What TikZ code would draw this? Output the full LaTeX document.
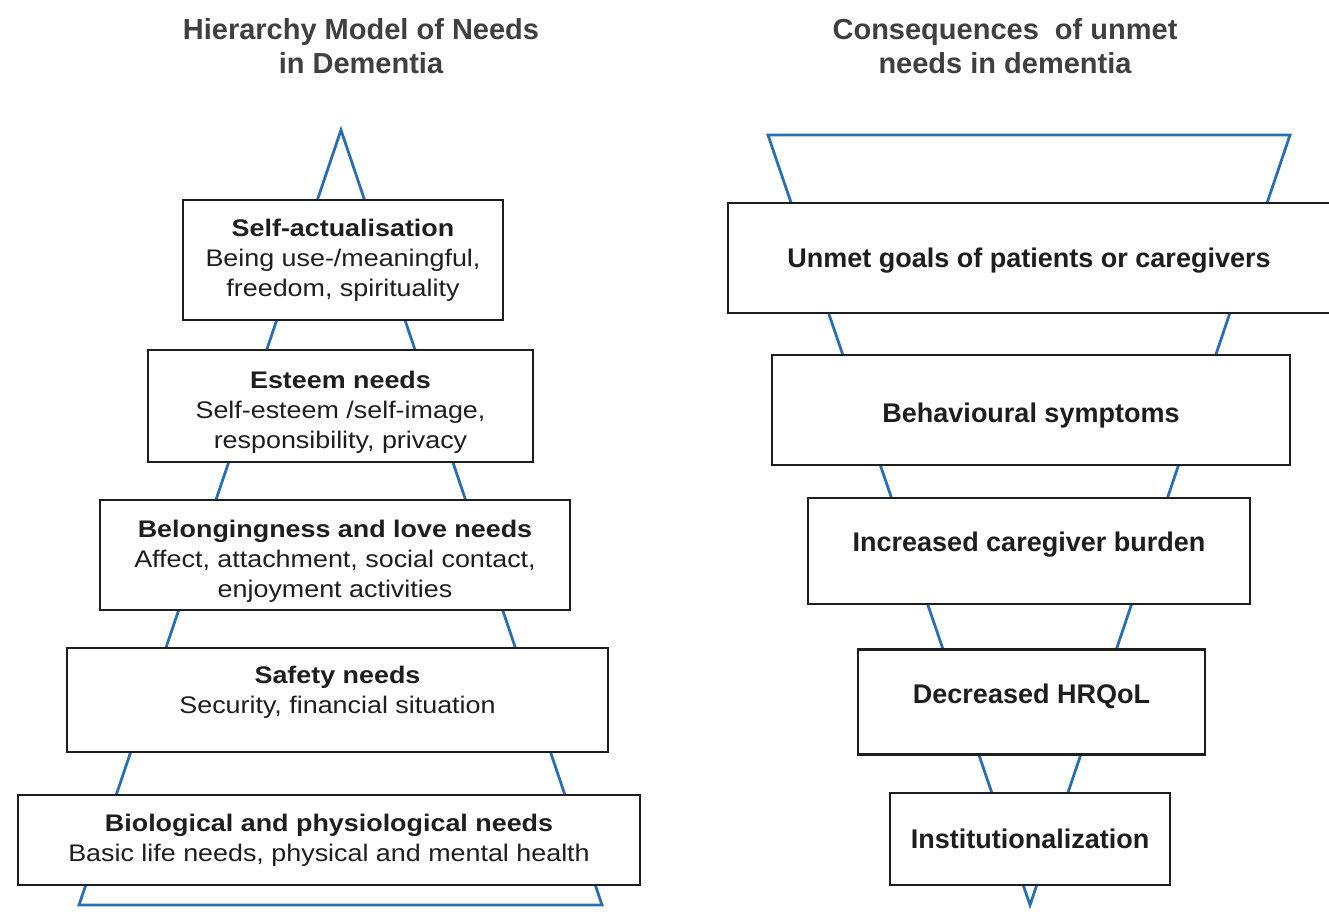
\documentclass[tikz,border=0pt]{standalone}
\usepackage{fontspec}
\setmainfont{Liberation Sans}
\newfontfamily\widesans[FakeStretch=1.12]{Liberation Sans}
\definecolor{tblue}{RGB}{40,112,178}
\definecolor{ink}{RGB}{30,30,30}
\begin{document}
\begin{tikzpicture}[x=1pt,y=-1pt,
  box/.style={draw=ink, line width=1.8pt, fill=white, inner sep=0pt, align=center, text=ink,
    font=\widesans\fontsize{24}{30}\selectfont},
  rbox/.style={box, font=\bfseries\fontsize{27}{30}\selectfont},
  heavy/.style={line width=2.8pt},
  tri/.style={draw=tblue, line width=2.8pt, line join=miter},
  ttl/.style={font=\bfseries\fontsize{29}{34}\selectfont, align=center, text=ink!85}]
\useasboundingbox (0,0) rectangle (1329,911);

% titles
\node[ttl] (ltitle) at (361,46) {Hierarchy Model of Needs\\in Dementia};
\node[ttl] (rtitle) at (1005,46) {Consequences\ \ of unmet\\needs in dementia};

% pyramid
\coordinate (lapex) at (341,130);
\coordinate (lbl) at (79,905);
\coordinate (lbr) at (602,905);
\draw[tri] (lapex) -- (lbl) -- (lbr) -- cycle;

% inverted pyramid
\coordinate (rtl) at (768,135);
\coordinate (rtr) at (1290,135);
\coordinate (rapex) at (1030,905);
\draw[tri] (rtl) -- (rtr) -- (rapex) -- cycle;

% left boxes
\node[box, minimum width=320pt, minimum height=120pt] (sa) at (343,260)
  {\textbf{Self-actualisation}\\Being use-/meaningful,\\freedom, spirituality};
\node[box, minimum width=385pt, minimum height=112pt] (est) at (340.5,406)
  {\rule{0pt}{30pt}\textbf{Esteem needs}\\Self-esteem /self-image,\\responsibility, privacy};
\node[box, heavy, minimum width=470pt, minimum height=110pt] (bel) at (335,555)
  {\rule{0pt}{30pt}\textbf{Belongingness and love needs}\\Affect, attachment, social contact,\\enjoyment activities};
\node[box, minimum width=541pt, minimum height=104pt] (saf) at (337.5,700)
  {\textbf{Safety needs}\\Security, financial situation\\[-18pt]\strut};
\node[box, minimum width=622pt, minimum height=90pt] (bio) at (329,840)
  {\textbf{Biological and physiological needs}\\Basic life needs, physical and mental health};

% right boxes
\node[rbox, minimum width=602pt, minimum height=110pt, text height=25pt, text depth=6pt] (ug) at (1029,258)
  {Unmet goals of patients or caregivers};
\node[rbox, minimum width=518pt, minimum height=110pt, text height=31pt, text depth=6pt] (bs) at (1031,410)
  {Behavioural symptoms};
\node[rbox, minimum width=442pt, minimum height=106pt, text height=19pt, text depth=18pt] (icb) at (1029,551)
  {Increased caregiver burden};
\node[rbox, heavy, minimum width=347pt, minimum height=105pt, text height=19pt, text depth=16pt] (dh) at (1031.5,702)
  {Decreased HRQoL};
\node[rbox, minimum width=280pt, minimum height=92pt] (inst) at (1030,839)
  {Institutionalization};
\end{tikzpicture}
\end{document}
